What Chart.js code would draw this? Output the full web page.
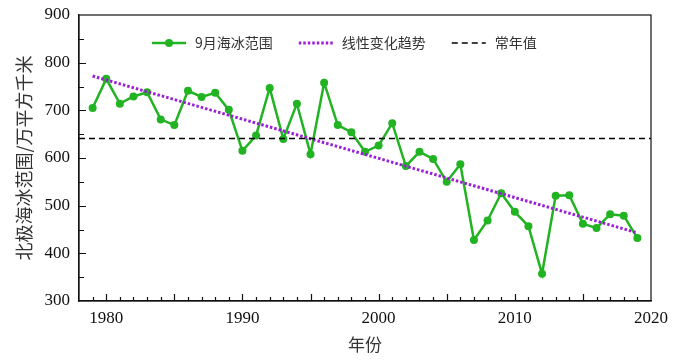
<!DOCTYPE html>
<html>
<head>
<meta charset="utf-8">
<script src="https://cdn.jsdelivr.net/npm/chart.js@4.4.0/dist/chart.umd.min.js"></script>
<style>
  body { margin: 0; background: #fff; }
  #wrap { width: 673px; height: 362px; }
</style>
</head>
<body>
<div id="wrap"><canvas id="chartCanva" width="673" height="362"></canvas></div>
<script>
// data
var years = [1979, 1980, 1981, 1982, 1983, 1984, 1985, 1986, 1987, 1988, 1989, 1990, 1991, 1992, 1993, 1994, 1995,
             1996, 1997, 1998, 1999, 2000, 2001, 2002, 2003, 2004, 2005, 2006, 2007, 2008,
             2009, 2010, 2011, 2012, 2013, 2014, 2015, 2016, 2017, 2018, 2019];
var extent = [705, 766, 714, 729, 738, 681, 669, 741, 728, 737, 701, 615, 647, 747, 640, 714, 608,
              758, 669, 654, 613, 626, 673, 583, 613, 598, 550, 587, 428, 469,
              526, 487, 457, 357, 521, 522, 462, 453, 482, 479, 432];
var trendYears = [1979, 2019];
var trendValues = [772, 443];
var normalYears = [1978, 2020];
var normalValue = 641;
var xTicks = [1980, 1990, 2000, 2010, 2020];
var yTicks = [300, 400, 500, 600, 700, 800, 900];
var labels = ['9月海冰范围', '线性变化趋势', '常年值'];

var serif = '"Liberation Serif", "Noto Sans CJK SC", serif';
var cjk = '"Noto Sans CJK SC", sans-serif';

// box round the plot and inward tick marks
const frameTicks = {
    id: 'frameTicks',
    afterDraw(chart) {
        const ctx = chart.ctx, a = chart.chartArea;
        const x = chart.scales.x, y = chart.scales.y;
        ctx.save();
        ctx.strokeStyle = '#111';
        ctx.lineWidth = 1.2;
        ctx.strokeRect(a.left, a.top, a.right - a.left, a.bottom - a.top);
        ctx.beginPath();
        for (let yr = x.min + 1; yr < x.max; yr++) {
            const px = Math.round(x.getPixelForValue(yr)) + 0.5;
            const len = yr % 5 === 0 ? 7 : 4;
            ctx.moveTo(px, a.bottom);
            ctx.lineTo(px, a.bottom - len);
        }
        for (let v = y.min + 50; v < y.max; v += 50) {
            const py = Math.round(y.getPixelForValue(v)) + 0.5;
            const len = v % 100 === 0 ? 7 : 5;
            ctx.moveTo(a.left, py);
            ctx.lineTo(a.left + len, py);
        }
        ctx.stroke();
        ctx.restore();
    }
};

// legend drawn inside the plot
const insideLegend = {
    id: 'insideLegend',
    afterDraw(chart) {
        const ctx = chart.ctx;
        let cx = 152;
        const cy = 43;
        ctx.save();
        ctx.font = '14px ' + cjk;
        ctx.textBaseline = 'middle';
        chart.data.datasets.forEach(function (ds) {
            ctx.strokeStyle = ds.borderColor;
            ctx.lineWidth = ds.borderWidth;
            ctx.setLineDash(ds.borderDash || []);
            ctx.beginPath();
            ctx.moveTo(cx, cy);
            ctx.lineTo(cx + 34, cy);
            ctx.stroke();
            ctx.setLineDash([]);
            if (ds.pointRadius) {
                ctx.fillStyle = ds.borderColor;
                ctx.beginPath();
                ctx.arc(cx + 17, cy, ds.pointRadius, 0, Math.PI * 2);
                ctx.fill();
            }
            ctx.fillStyle = '#333';
            ctx.fillText(ds.label, cx + 43, cy);
            cx += 43 + ctx.measureText(ds.label).width + 26;
        });
        ctx.restore();
    }
};

const data = {
    datasets: [{
        label: labels[0],
        data: years.map((yr, i) => ({ x: yr, y: extent[i] })),
        borderColor: '#22b322',
        backgroundColor: '#22b322',
        borderWidth: 2.5,
        pointRadius: 4,
        pointBackgroundColor: '#22b322',
        pointBorderWidth: 0,
        order: 3
    }, {
        label: labels[1],
        data: trendYears.map((yr, i) => ({ x: yr, y: trendValues[i] })),
        borderColor: '#9b1fd6',
        borderWidth: 3,
        borderDash: [2.5, 2],
        pointRadius: 0,
        order: 2
    }, {
        label: labels[2],
        data: normalYears.map(yr => ({ x: yr, y: normalValue })),
        borderColor: '#000',
        borderWidth: 1.5,
        borderDash: [6, 4],
        pointRadius: 0,
        order: 1
    }]
};

const config = {
    type: 'line',
    data: data,
    options: {
        responsive: false,
        animation: false,
        layout: { padding: { left: 0, right: 22, top: 15, bottom: 0 } },
        plugins: {
            legend: { display: false },
            tooltip: { enabled: false }
        },
        scales: {
            x: {
                type: 'linear',
                min: 1978,
                max: 2020,
                afterBuildTicks: s => { s.ticks = xTicks.map(v => ({ value: v })); },
                afterFit: s => { s.height = 61; s.paddingLeft = 0; s.paddingRight = 0; },
                grid: { display: false, drawTicks: false },
                border: { display: true, color: '#111', width: 1.2 },
                ticks: {
                    color: '#111',
                    padding: 7,
                    maxRotation: 0,
                    font: { family: serif, size: 17 },
                    callback: v => String(v)
                },
                title: {
                    display: true,
                    text: '年份',
                    color: '#333',
                    font: { family: cjk, size: 17 },
                    padding: { top: 0, bottom: 7 }
                }
            },
            y: {
                min: 300,
                max: 900,
                afterBuildTicks: s => { s.ticks = yTicks.map(v => ({ value: v })); },
                afterFit: s => { s.width = 79; s.paddingTop = 0; s.paddingBottom = 0; },
                grid: { display: false, drawTicks: false },
                border: { display: true, color: '#111', width: 1.2 },
                ticks: {
                    color: '#111',
                    padding: 9,
                    font: { family: serif, size: 17 }
                },
                title: {
                    display: true,
                    text: '北极海冰范围/万平方千米',
                    color: '#333',
                    font: { family: cjk, size: 18 },
                    padding: { top: 13, bottom: 0 }
                }
            }
        }
    },
    plugins: [frameTicks, insideLegend]
};

var myChart = new Chart(document.getElementById('chartCanva'), config);
</script>
</body>
</html>
